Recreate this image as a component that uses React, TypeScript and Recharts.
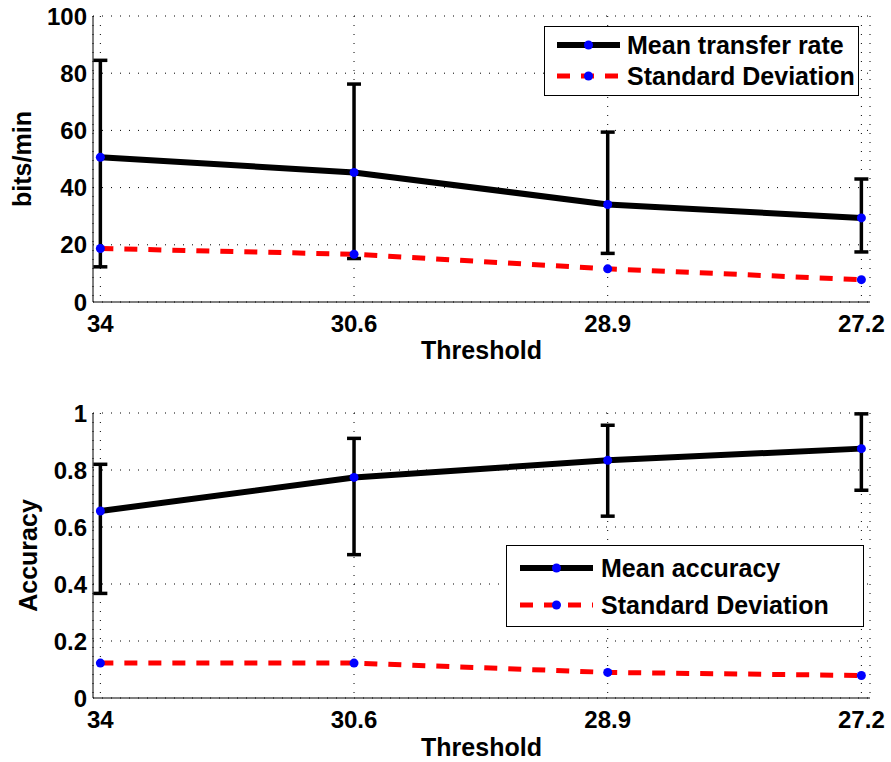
import React from 'react';
import {
    LineChart, Line, XAxis, YAxis, CartesianGrid, ErrorBar, Legend, Label
} from 'recharts';

// Threshold categories, shown left to right
const thresholds = ['34', '30.6', '28.9', '27.2'];

// Top panel: transfer rate (bits/min)
const meanRate = [50.6, 45.3, 34.1, 29.4];
const rateBarLow = [12.3, 15.2, 17.0, 17.5];
const rateBarHigh = [84.5, 76.2, 59.4, 43.0];
const stdRate = [18.7, 16.7, 11.6, 7.8];
const rateTicks = [0, 20, 40, 60, 80, 100];

// Bottom panel: accuracy
const meanAcc = [0.656, 0.774, 0.834, 0.875];
const accBarLow = [0.367, 0.503, 0.638, 0.729];
const accBarHigh = [0.82, 0.911, 0.957, 0.997];
const stdAcc = [0.1225, 0.1225, 0.0898, 0.079];
const accTicks = [0, 0.2, 0.4, 0.6, 0.8, 1];

const FONT = '"Liberation Sans", Arial, Helvetica, sans-serif';
const X_DOMAIN: [number, number] = [-0.029, 3.034];
const xTicks = thresholds.map((_, i) => i);
// small matlab-style minor ticks along the bottom axis
const minorTicks: number[] = [];
for (let i = 0; i <= 3 * 27; i++) minorTicks.push(i / 27);

const buildRows = (mean: number[], lo: number[], hi: number[], std: number[]) =>
    thresholds.map((t, i) => ({
        x: i,
        label: t,
        mean: mean[i],
        err: [mean[i] - lo[i], hi[i] - mean[i]],
        std: std[i],
    }));

const rateRows = buildRows(meanRate, rateBarLow, rateBarHigh, stdRate);
const accRows = buildRows(meanAcc, accBarLow, accBarHigh, stdAcc);

const tickStyle = { fontSize: 24, fontWeight: 700, fill: '#000', fontFamily: FONT };

// legend drawn like the matlab box
const makeLegend = (names: string[], w: number, h: number, rowY: number[], lineX: [number, number], textX: number) => () => (
    <svg width={w} height={h} style={{ display: 'block' }}>
        <rect x={0.5} y={0.5} width={w - 1} height={h - 1} fill="#fff" stroke="#000" strokeWidth={1} />
        {names.map((n, i) => (
            <g key={n}>
                <line x1={lineX[0]} x2={lineX[1]} y1={rowY[i]} y2={rowY[i]}
                    stroke={i === 0 ? '#000' : '#ff0000'} strokeWidth={i === 0 ? 6 : 5}
                    strokeDasharray={i === 0 ? undefined : '13 11'} />
                <circle cx={(lineX[0] + lineX[1]) / 2} cy={rowY[i]} r={4.5} fill="#0000ff" />
                <text x={textX} y={rowY[i] + 9} fontSize={25} fontWeight={700} fontFamily={FONT} fill="#000">{n}</text>
            </g>
        ))}
    </svg>
);

const yTitle = (text: string, dx: number) => (props: any) => {
    const vb = props.viewBox;
    const x = vb.x + dx;
    const y = vb.y + vb.height / 2;
    return (
        <text x={x} y={y} transform={`rotate(-90 ${x} ${y})`} textAnchor="middle"
            fontSize={25} fontWeight={700} fontFamily={FONT} fill="#000">{text}</text>
    );
};

const xTitle = (text: string, dy: number) => (props: any) => {
    const vb = props.viewBox;
    return (
        <text x={vb.x + vb.width / 2} y={vb.y + dy} textAnchor="middle"
            fontSize={25} fontWeight={700} fontFamily={FONT} fill="#000">{text}</text>
    );
};

interface PanelProps {
    rows: any[];
    yDomain: [number, number];
    yTicks: number[];
    yFmt: (v: number) => string;
    yLabel: string;
    yLabelDx: number;
    margin: { top: number; right: number; left: number; bottom: number };
    xHeight: number;
    titleDy: number;
    legend: () => React.ReactElement;
    legendPos: { left: number; top: number };
    meanName: string;
}

const Panel: React.FC<PanelProps> = (p) => (
    <LineChart width={891} height={381} data={p.rows} margin={p.margin}>
        <CartesianGrid stroke="#000" strokeWidth={1} strokeDasharray="1 8" />
        <XAxis xAxisId="minor" type="number" dataKey="x" domain={X_DOMAIN} ticks={minorTicks}
            allowDataOverflow height={0} mirror tick={false} tickSize={2}
            tickLine={{ stroke: '#000' }} axisLine={false} />
        <XAxis type="number" dataKey="x" domain={X_DOMAIN} ticks={xTicks} allowDataOverflow
            interval={0} height={p.xHeight} tickSize={0} tickMargin={13}
            tickFormatter={(v: number) => thresholds[v]} tick={tickStyle}
            axisLine={{ stroke: '#000', strokeWidth: 1 }}>
            <Label content={xTitle('Threshold', p.titleDy)} />
        </XAxis>
        <YAxis domain={p.yDomain} ticks={p.yTicks} width={93} tickSize={0} tickMargin={6}
            tickFormatter={p.yFmt} tick={tickStyle} axisLine={{ stroke: '#000', strokeWidth: 1 }}>
            <Label content={yTitle(p.yLabel, p.yLabelDx)} />
        </YAxis>
        <Line dataKey="mean" name={p.meanName} stroke="#000" strokeWidth={6} isAnimationActive={false}
            dot={{ r: 4.5, fill: '#0000ff', stroke: 'none' }} activeDot={false}>
            <ErrorBar dataKey="err" direction="y" width={7} stroke="#000" strokeWidth={3.5} />
        </Line>
        <Line dataKey="std" name="Standard Deviation" stroke="#ff0000" strokeWidth={5}
            strokeDasharray="13 11" isAnimationActive={false}
            dot={{ r: 4.5, fill: '#0000ff', stroke: 'none', strokeDasharray: '' }} activeDot={false} />
        <Legend content={p.legend} layout="horizontal" verticalAlign="middle" align="center"
            wrapperStyle={{ position: 'absolute', left: p.legendPos.left, top: p.legendPos.top, width: 'auto', height: 'auto' }} />
    </LineChart>
);

export default function App() {
    return (
        <div style={{ position: 'absolute', left: 0, top: 0, width: 891, height: 762, background: '#fff' }}>
            <Panel
                rows={rateRows}
                yDomain={[0, 100]}
                yTicks={rateTicks}
                yFmt={(v) => String(v)}
                yLabel="bits/min"
                yLabelDx={31}
                margin={{ top: 16, right: 21, left: 0, bottom: 0 }}
                xHeight={79}
                titleDy={57}
                legend={makeLegend(['Mean transfer rate', 'Standard Deviation'], 315, 70, [19, 50], [13, 76], 83)}
                legendPos={{ left: 544, top: 26 }}
                meanName="Mean transfer rate"
            />
            <Panel
                rows={accRows}
                yDomain={[0, 1]}
                yTicks={accTicks}
                yFmt={(v) => String(v)}
                yLabel="Accuracy"
                yLabelDx={37}
                margin={{ top: 32, right: 21, left: 0, bottom: 0 }}
                xHeight={64}
                titleDy={58}
                legend={makeLegend(['Mean accuracy', 'Standard Deviation'], 358, 82, [23, 60], [14, 87], 95)}
                legendPos={{ left: 506, top: 164 }}
                meanName="Mean accuracy"
            />
        </div>
    );
}
